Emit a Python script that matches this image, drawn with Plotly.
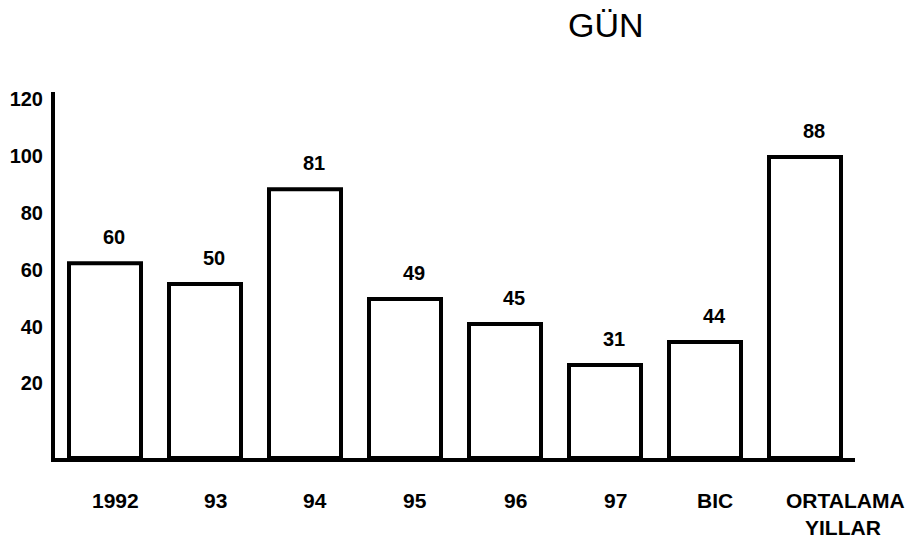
import plotly.graph_objects as go

# ---- data ----
CATEGORIES = ["1992", "93", "94", "95", "96", "97", "BIC", "ORTALAMA"]
BAR_HEIGHTS = [62.3, 55.0, 88.3, 49.7, 40.9, 26.5, 34.6, 99.6]   # drawn bar heights
BAR_LABELS = ["60", "50", "81", "49", "45", "31", "44", "88"]      # printed values
Y_TICKS = [20, 40, 60, 80, 100, 120]
Y_TICK_TEXT = ["20", "40", "60", "80", "100", "120"]
TITLE = "GÜN"
X_TITLE = "YILLAR"

# ---- styling ----
AXIS_FLOOR = -6.2
AXIS_TOP = 122.5
FONT = "Liberation Sans, Arial, sans-serif"
LINE_W = 4
W, H = 906, 537   # page body has an 8px margin
ML, MR, MT, MB = 47, 59, 84, 87
PLOT_W, PLOT_H = W - ML - MR, H - MT - MB

fig = go.Figure()
fig.add_trace(go.Bar(
    x=list(range(len(CATEGORIES))),
    y=[h - AXIS_FLOOR for h in BAR_HEIGHTS],
    base=AXIS_FLOOR,
    width=0.72,
    marker=dict(color="white", line=dict(color="black", width=LINE_W)),
    hoverinfo="skip",
    showlegend=False,
))

annotations = []
# value labels above bars
for i, (h, t) in enumerate(zip(BAR_HEIGHTS, BAR_LABELS)):
    annotations.append(dict(
        x=i, y=h, xref="x", yref="y", text=f"<b>{t}</b>", showarrow=False,
        yshift=26, xshift=9, yanchor="middle",
        font=dict(family=FONT, size=20, color="black"),
    ))
# category labels below the axis
for i, c in enumerate(CATEGORIES):
    shift = 40 if i == len(CATEGORIES) - 1 else 10
    annotations.append(dict(
        x=i, y=0, xref="x", yref="paper", text=f"<b>{c}</b>", showarrow=False,
        yshift=-42, xshift=shift, yanchor="middle",
        font=dict(family=FONT, size=21, color="black"),
    ))
annotations.append(dict(
    x=len(CATEGORIES) - 1, y=0, xref="x", yref="paper", text=f"<b>{X_TITLE}</b>",
    showarrow=False, yshift=-69, xshift=38, yanchor="middle",
    font=dict(family=FONT, size=21, color="black"),
))
# chart heading
annotations.append(dict(
    x=(598 - ML) / PLOT_W, y=(H - MB - 17) / PLOT_H, xref="paper", yref="paper",
    text=TITLE, showarrow=False, xanchor="center", yanchor="middle",
    font=dict(family=FONT, size=34, color="black"),
))

fig.update_layout(
    width=W, height=H,
    margin=dict(l=ML, r=MR, t=MT, b=MB, pad=0, autoexpand=False),
    paper_bgcolor="white", plot_bgcolor="white",
    annotations=annotations,
    xaxis=dict(
        type="linear", range=[-0.5, len(CATEGORIES) - 0.5], showticklabels=False,
        ticks="", showgrid=False, zeroline=False, showline=True, automargin=False,
        linecolor="black", linewidth=LINE_W, fixedrange=True,
    ),
    yaxis=dict(
        range=[AXIS_FLOOR, AXIS_TOP], tickvals=Y_TICKS,
        ticktext=[f"<b>{t}</b>" for t in Y_TICK_TEXT], ticks="",
        ticklabelstandoff=4, automargin=False,
        tickfont=dict(family=FONT, size=20, color="black"),
        showgrid=False, zeroline=False, showline=True,
        linecolor="black", linewidth=LINE_W, fixedrange=True,
    ),
)

fig.write_html("out.html")
